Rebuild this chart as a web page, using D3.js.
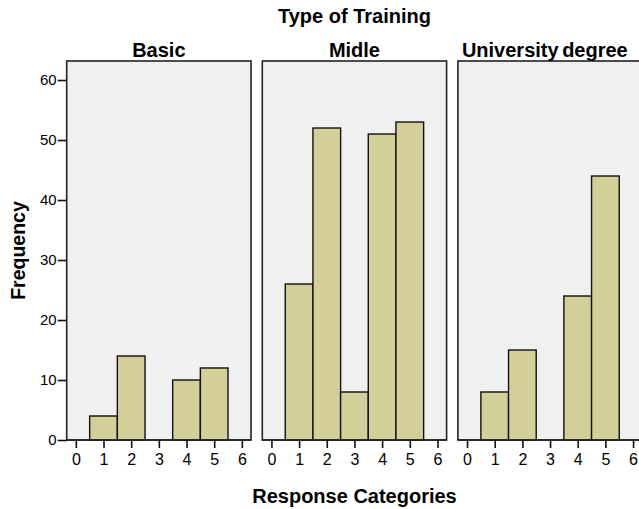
<!DOCTYPE html>
<html><head><meta charset="utf-8">
<script src="https://cdn.jsdelivr.net/npm/d3@7"></script>
<style>
html,body{margin:0;padding:0;background:#fff;overflow:hidden;}
text{font-family:"Liberation Sans",Arial,sans-serif;}
</style></head>
<body>
<script>
const panels = ["Basic", "Midle", "University degree"];
const categories = [1, 2, 3, 4, 5];
const basicValues = [4, 14, 0, 10, 12];
const midleValues = [26, 52, 8, 51, 53];
const universityValues = [8, 15, 0, 24, 44];
const xTicks = [0, 1, 2, 3, 4, 5, 6];
const yTicks = [0, 10, 20, 30, 40, 50, 60];
const seriesValues = [basicValues, midleValues, universityValues];

(function () {
const W = 639, H = 509;
const svg = d3.select("body").append("svg").attr("width", W).attr("height", H);

const plotTop = 61, plotBottom = 440;
const panelW = 184.3, gap = 195.6, left0 = 66.7;
const titleSize = 20, xTickSize = 16, yTickSize = 15;

const y = d3.scaleLinear().domain([0, 63.17]).range([plotBottom, plotTop]);

svg.append("text").attr("x", 354.5).attr("y", 23).attr("text-anchor", "middle")
  .attr("font-weight", "bold").attr("font-size", titleSize).text("Type of Training");
svg.append("text").attr("x", 354.5).attr("y", 503).attr("text-anchor", "middle")
  .attr("font-weight", "bold").attr("font-size", titleSize).text("Response Categories");
svg.append("text").attr("transform", "translate(25,250.5) rotate(-90)").attr("text-anchor", "middle")
  .attr("font-weight", "bold").attr("font-size", 19.5).text("Frequency");

panels.forEach((name, i) => {
  const px = left0 + i * gap;
  const x = d3.scaleLinear().domain([-0.33, 6.33]).range([px, px + panelW]);
  const g = svg.append("g");
  g.append("rect").attr("x", px).attr("y", plotTop).attr("width", panelW).attr("height", plotBottom - plotTop)
    .attr("fill", "#f0f0f0").attr("stroke", "#222").attr("stroke-width", 1.6);
  const t = g.append("text").attr("x", px + panelW / 2).attr("y", 57).attr("text-anchor", "middle")
    .attr("font-weight", "bold").attr("font-size", titleSize).text(name);
  if (i === 2) t.attr("x", px + 4).attr("text-anchor", "start").attr("word-spacing", -2);

  const data = categories.map((c, j) => ({c, v: seriesValues[i][j]})).filter(d => d.v > 0);
  g.selectAll("rect.bar").data(data).enter().append("rect").attr("class", "bar")
    .attr("x", d => x(d.c - 0.5)).attr("width", d => x(d.c + 0.5) - x(d.c - 0.5))
    .attr("y", d => y(d.v)).attr("height", d => y(0) - y(d.v))
    .attr("fill", "#d3cf98").attr("stroke", "#111").attr("stroke-width", 1.4);

  const xa = g.append("g").attr("transform", `translate(0,${plotBottom})`)
    .call(d3.axisBottom(x).tickValues(xTicks).tickFormat(d3.format("d")).tickSize(8).tickPadding(6));
  xa.attr("font-size", xTickSize).attr("font-family", "'Liberation Sans',Arial,sans-serif");
  xa.select(".domain").attr("d", `M${px},0H${px + panelW}`).attr("stroke", "#222").attr("stroke-width", 1.6);
  xa.selectAll(".tick line").attr("stroke", "#111").attr("stroke-width", 1.6);
  xa.selectAll(".tick text").attr("fill", "#000").style("font-size", xTickSize + "px");

  if (i === 0) {
    const ya = g.append("g").attr("transform", `translate(${px},0)`)
      .call(d3.axisLeft(y).tickValues(yTicks).tickSize(9).tickPadding(1));
    ya.attr("font-size", yTickSize).attr("font-family", "'Liberation Sans',Arial,sans-serif");
    ya.select(".domain").remove();
    ya.selectAll(".tick line").attr("stroke", "#111").attr("stroke-width", 1.6);
    ya.selectAll(".tick text").attr("fill", "#000").style("font-size", yTickSize + "px");
  }
});
})();
</script>
</body></html>
